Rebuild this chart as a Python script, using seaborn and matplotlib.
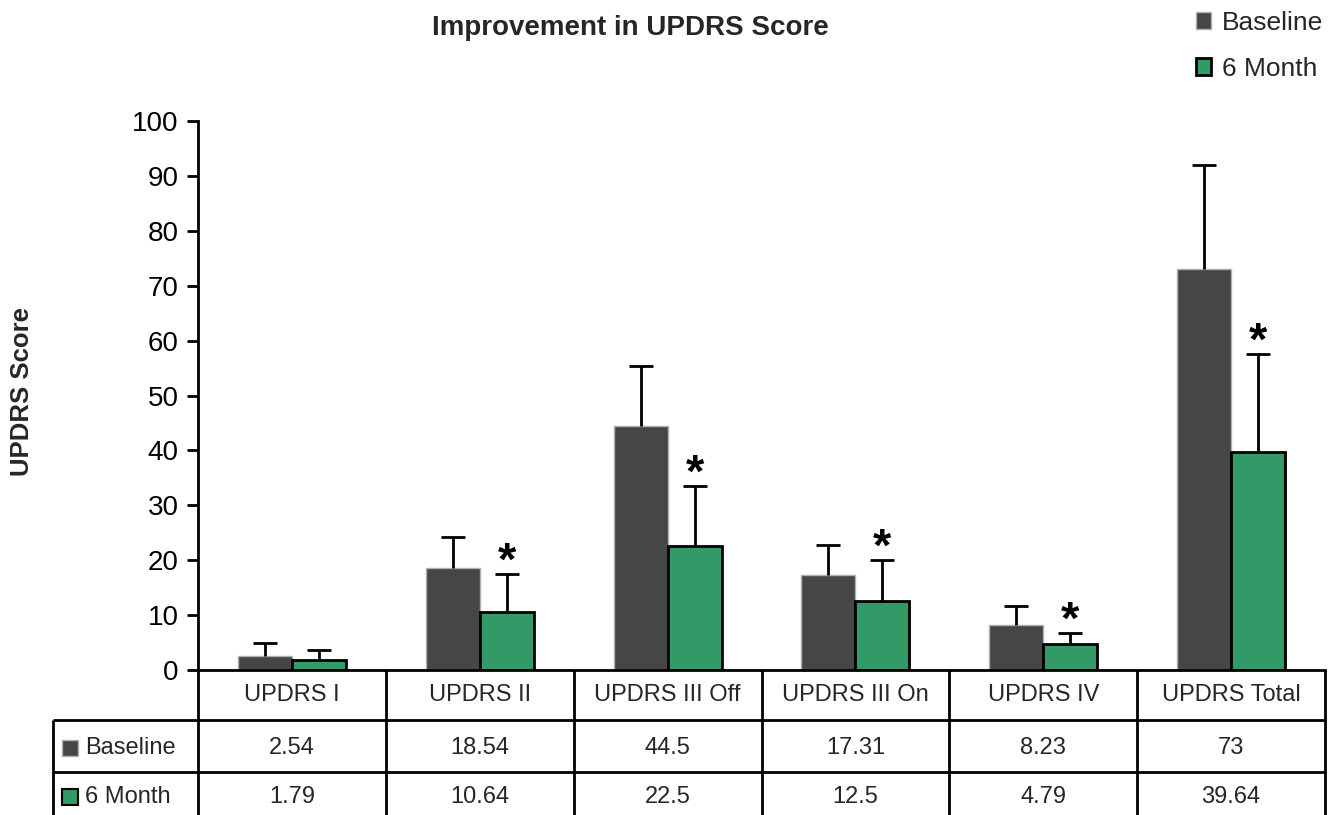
import matplotlib
matplotlib.use("Agg")
import matplotlib.pyplot as plt
import matplotlib.transforms as mtransforms
import numpy as np
import pandas as pd
import seaborn as sns

# UPDRS subscale means and standard deviations
categories = ["UPDRS I", "UPDRS II", "UPDRS III Off", "UPDRS III On", "UPDRS IV", "UPDRS Total"]
baseline = [2.54, 18.54, 44.5, 17.31, 8.23, 73]
month6 = [1.79, 10.64, 22.5, 12.5, 4.79, 39.64]
baseline_sd = [2.4, 5.7, 10.8, 5.5, 3.5, 18.9]
month6_sd = [1.8, 6.9, 11.0, 7.6, 2.0, 18.0]
significant = [False, True, True, True, True, True]
series = ["Baseline", "6 Month"]
baseline_labels = ["2.54", "18.54", "44.5", "17.31", "8.23", "73"]
month6_labels = ["1.79", "10.64", "22.5", "12.5", "4.79", "39.64"]
yticks = [0, 10, 20, 30, 40, 50, 60, 70, 80, 90, 100]

df = pd.DataFrame({
    "Subscale": categories * 2,
    "Visit": [series[0]] * len(categories) + [series[1]] * len(categories),
    "Score": baseline + month6,
})

sns.set_theme(style="white")
plt.rcParams["font.family"] = ["Liberation Sans", "DejaVu Sans"]

FS = 17
DARK = "#464646"
GREEN = "#339966"

fig = plt.figure(figsize=(13.39, 8.15), dpi=100)
ax = fig.add_axes([198 / 1339, 1 - 670 / 815, (1325 - 198) / 1339, (670 - 121) / 815])

sns.barplot(data=df, x="Subscale", y="Score", hue="Visit", order=categories,
            hue_order=series, palette=[DARK, GREEN], width=0.575, gap=0,
            errorbar=None, saturation=1, ax=ax, legend=False)

styles = [dict(edgecolor="#b0b0b0", linewidth=1.0), dict(edgecolor="black", linewidth=2.0)]
sds = [baseline_sd, month6_sd]
means = [baseline, month6]
for cont, st, sd, mean in zip(ax.containers, styles, sds, means):
    centers = []
    for p in cont.patches:
        p.set_edgecolor(st["edgecolor"])
        p.set_linewidth(st["linewidth"])
        centers.append(p.get_x() + p.get_width() / 2)
    tops = np.array(mean) + np.array(sd)
    # upper-only error bars with a single cap
    ax.vlines(centers, mean, tops, colors="black", linewidth=2, zorder=1)
    ax.plot(centers, tops, linestyle="none", marker="_", markersize=17,
            markeredgewidth=2, color="black", zorder=1)

# significance markers above the 6-month error bars
for p, m, s, sig in zip(ax.containers[1].patches, month6, month6_sd, significant):
    if sig:
        ax.annotate("*", xy=(p.get_x() + p.get_width() / 2, m + s), xytext=(0, -0.7),
                    textcoords="offset points", ha="center", va="baseline",
                    fontsize=34, fontweight="bold", color="black")

ax.set_xlim(-0.5, len(categories) - 0.5)
ax.set_ylim(0, 100)
ax.set_yticks(yticks)
ax.set_yticklabels([str(t) for t in yticks], fontsize=20, color="black")
ax.set_xticks([])
ax.set_xlabel("")
ax.set_ylabel("")
for side in ["top", "right"]:
    ax.spines[side].set_visible(False)
for side in ["left", "bottom"]:
    ax.spines[side].set_color("black")
    ax.spines[side].set_linewidth(2)
ax.tick_params(axis="y", which="major", direction="out", length=8, width=2,
               color="black", pad=6, left=True)

# data table beneath the axis
tr = mtransforms.blended_transform_factory(ax.transData, ax.transAxes)
px = 1 / 549.0
y_head = -50 * px
y_mid = -102 * px
y_bot = -160 * px
x_left = -0.5 - 145 / 187.8
x_right = len(categories) - 0.5
line_kw = dict(color="black", linewidth=2, transform=tr, clip_on=False, solid_capstyle="butt")
for b in np.arange(-0.5, len(categories), 1.0):
    ax.plot([b, b], [0, y_bot], **line_kw)
ax.plot([x_left, x_left], [y_head, y_bot], **line_kw)
ax.plot([x_left, x_right], [y_head, y_head], **line_kw)
ax.plot([x_left, x_right], [y_mid, y_mid], **line_kw)

for i, c in enumerate(categories):
    ax.text(i, -25 * px, c, ha="center", va="center", fontsize=FS, transform=tr, clip_on=False)
    ax.text(i, -78 * px, baseline_labels[i], ha="center", va="center", fontsize=FS,
            transform=tr, clip_on=False)
    ax.text(i, -127 * px, month6_labels[i], ha="center", va="center", fontsize=FS,
            transform=tr, clip_on=False)

sw_x = x_left + 17 / 187.8
txt_x = x_left + 32 / 187.8
ax.plot([sw_x], [-78 * px], marker="s", markersize=11, markerfacecolor=DARK,
        markeredgecolor="#b0b0b0", markeredgewidth=1, transform=tr, clip_on=False)
ax.plot([sw_x], [-127 * px], marker="s", markersize=11, markerfacecolor=GREEN,
        markeredgecolor="black", markeredgewidth=1.5, transform=tr, clip_on=False)
ax.text(txt_x, -78 * px, series[0], ha="left", va="center", fontsize=FS, transform=tr, clip_on=False)
ax.text(txt_x, -127 * px, series[1], ha="left", va="center", fontsize=FS, transform=tr, clip_on=False)

# legend in the top-right corner
handles = [ax.containers[0].patches[0], ax.containers[1].patches[0]]
leg = fig.legend(handles, series, loc="upper left", bbox_to_anchor=(1185 / 1339, 1 - 0 / 815),
                 frameon=False, fontsize=19, handlelength=0.6, handleheight=0.6,
                 handletextpad=0.4, labelspacing=0.85, borderaxespad=0)

fig.text(630 / 1339, 1 - 28 / 815, "Improvement in UPDRS Score", ha="center", va="center",
         fontsize=20, fontweight="bold")
fig.text(22 / 1339, 1 - 392 / 815, "UPDRS Score", ha="center", va="center", rotation=90,
         fontsize=18.5, fontweight="bold")

fig.savefig("out.png", dpi=100, facecolor="white")
